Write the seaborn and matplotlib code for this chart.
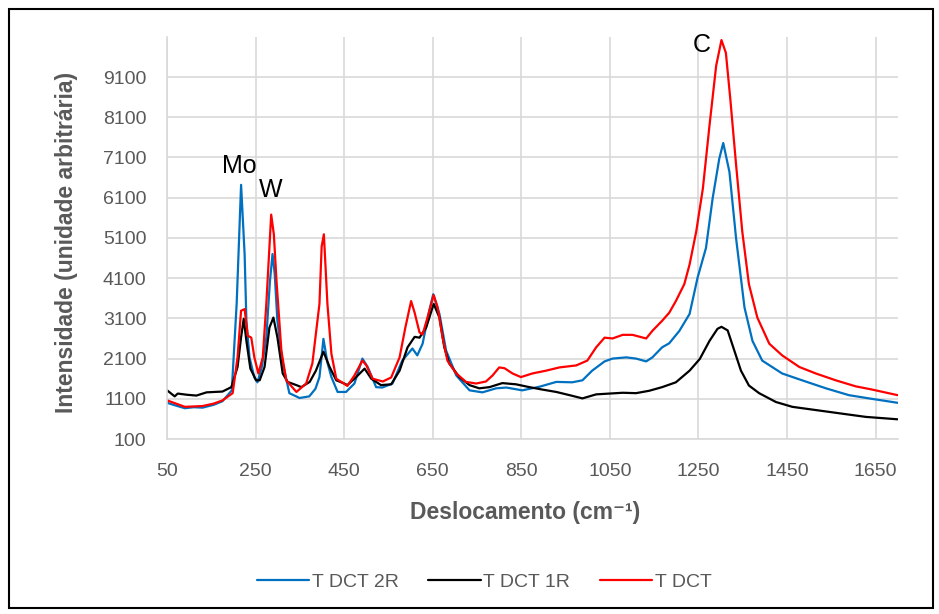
import pandas as pd
import matplotlib
matplotlib.use('Agg')
import matplotlib.pyplot as plt
import seaborn as sns
from matplotlib.patches import Rectangle

# Raman spectra (deslocamento cm-1, intensidade)
x_2r = [50, 70, 90, 110, 130, 155, 175, 196, 207, 217, 225, 229, 236, 247, 254, 264, 274, 282, 288, 293,
        299, 310, 326, 349, 371, 385, 394, 403, 412, 421, 435, 454, 473, 491, 503, 522, 536, 559, 581, 604,
        615, 627, 642, 651, 665, 680, 703, 733, 762, 793, 816, 852, 891, 929, 965, 988, 1010, 1038, 1056, 1087,
        1109, 1132, 1146, 1168, 1184, 1207, 1230, 1248, 1267, 1282, 1297, 1306, 1320, 1335, 1354, 1372, 1394, 1439, 1484, 1538,
        1590, 1635, 1700]
y_2r = [1000, 930, 866, 890, 880, 950, 1040, 1310, 3460, 6420, 4690, 3040, 2130, 1630, 1510, 1900, 2620, 4000, 4700, 4200,
        3040, 2050, 1240, 1120, 1160, 1350, 1640, 2590, 2000, 1640, 1270, 1270, 1480, 2100, 1890, 1390, 1380, 1480, 2050, 2350,
        2180, 2470, 3290, 3700, 3210, 2300, 1680, 1310, 1260, 1360, 1380, 1310, 1400, 1520, 1510, 1560, 1800, 2030, 2100, 2130,
        2100, 2030, 2130, 2380, 2480, 2790, 3210, 4110, 4850, 6080, 7070, 7460, 6740, 5090, 3370, 2540, 2050, 1730, 1560, 1360,
        1190, 1110, 1000]

x_1r = [50, 67, 74, 95, 116, 139, 175, 195, 209, 217, 223, 229, 238, 251, 259, 270, 281, 290, 299, 311,
        322, 342, 353, 372, 386, 403, 417, 432, 450, 457, 477, 496, 511, 533, 556, 575, 593, 609, 620, 635,
        652, 665, 676, 687, 710, 733, 755, 778, 807, 838, 868, 897, 929, 959, 988, 1019, 1049, 1079, 1109, 1139,
        1168, 1199, 1230, 1253, 1275, 1293, 1302, 1316, 1331, 1346, 1364, 1387, 1425, 1462, 1515, 1568, 1628, 1700]
y_1r = [1310, 1160, 1230, 1200, 1180, 1260, 1280, 1390, 1890, 2630, 3090, 2540, 1850, 1560, 1560, 1890, 2870, 3120, 2630, 1730,
        1520, 1440, 1390, 1520, 1800, 2270, 1890, 1560, 1480, 1440, 1640, 1850, 1600, 1440, 1460, 1800, 2380, 2640, 2620, 2870,
        3460, 3120, 2380, 1980, 1640, 1440, 1360, 1390, 1490, 1460, 1390, 1330, 1270, 1190, 1110, 1210, 1230, 1250, 1240, 1300,
        1390, 1510, 1800, 2090, 2540, 2840, 2890, 2800, 2300, 1800, 1430, 1240, 1020, 900, 820, 740, 650, 590]

x_t = [50, 70, 90, 110, 130, 155, 175, 198, 209, 217, 225, 232, 240, 247, 256, 266, 274, 285, 291, 297,
       308, 319, 342, 364, 378, 394, 399, 404, 412, 421, 432, 446, 457, 473, 491, 500, 514, 537, 556, 575,
       588, 601, 609, 620, 627, 638, 652, 661, 672, 683, 703, 725, 748, 770, 785, 800, 812, 830, 849, 875,
       906, 936, 974, 999, 1019, 1038, 1056, 1079, 1101, 1132, 1146, 1168, 1184, 1199, 1218, 1230, 1245, 1260, 1275, 1290,
       1302, 1312, 1322, 1335, 1349, 1364, 1383, 1410, 1439, 1478, 1515, 1560, 1605, 1642, 1700]
y_t = [1060, 980, 900, 910, 920, 980, 1060, 1240, 2130, 3290, 3330, 2670, 2620, 2130, 1730, 2130, 3460, 5680, 5190, 4030,
       2300, 1560, 1270, 1480, 1980, 3460, 4890, 5190, 3460, 2220, 1600, 1500, 1420, 1680, 2050, 1930, 1600, 1530, 1630, 2130,
       2870, 3530, 3240, 2750, 2700, 3120, 3680, 3370, 2630, 2050, 1730, 1520, 1480, 1530, 1680, 1880, 1860, 1730, 1640, 1730,
       1800, 1880, 1930, 2050, 2380, 2620, 2600, 2690, 2690, 2600, 2790, 3040, 3240, 3530, 3950, 4440, 5260, 6330, 7900, 9380,
       10020, 9700, 8550, 6920, 5260, 3950, 3120, 2470, 2180, 1890, 1730, 1560, 1410, 1330, 1190]

series = ['T DCT 2R', 'T DCT 1R', 'T DCT']
colors = ['#0070C0', '#000000', '#FF0000']
x_ticks = [50, 250, 450, 650, 850, 1050, 1250, 1450, 1650]
y_ticks = [100, 1100, 2100, 3100, 4100, 5100, 6100, 7100, 8100, 9100]

frames = []
for name, xs, ys in zip(series, [x_2r, x_1r, x_t], [y_2r, y_1r, y_t]):
    frames.append(pd.DataFrame({'x': xs, 'y': ys, 'serie': name}))
df = pd.concat(frames, ignore_index=True)

sns.set_theme(style='white')
plt.rcParams['font.family'] = ['Liberation Sans', 'DejaVu Sans']

fig, ax = plt.subplots(figsize=(9.39, 6.14), dpi=100)
fig.subplots_adjust(left=0.178, right=0.956, top=0.940, bottom=0.285)

sns.lineplot(data=df, x='x', y='y', hue='serie', hue_order=series,
             palette=dict(zip(series, colors)), sort=False, estimator=None,
             linewidth=1.6, ax=ax)

ax.set_xlim(50, 1700)
ax.set_ylim(100, 10100)
ax.set_xticks(x_ticks)
ax.set_yticks(y_ticks)
ax.grid(True, color='#D9D9D9', linewidth=1.2)
ax.set_axisbelow(True)
for side in ['top', 'right']:
    ax.spines[side].set_visible(False)
for side in ['left', 'bottom']:
    ax.spines[side].set_color('#D9D9D9')
    ax.spines[side].set_linewidth(1.2)
ax.tick_params(axis='both', length=0, labelsize=14, colors='#595959')
ax.tick_params(axis='x', pad=17)
ax.tick_params(axis='y', pad=15)

ax.set_xlabel('Deslocamento (cm⁻¹)', fontsize=16.5, fontweight='bold', color='#595959')
ax.set_ylabel('Intensidade (unidade arbitrária)', fontsize=16.5, fontweight='bold', color='#595959')
ax.xaxis.set_label_coords(0.49, -0.182)
ax.yaxis.set_label_coords(-0.138, 0.49)
ax.xaxis.label.set_va('center')
ax.yaxis.label.set_va('center')

ax.text(213, 6600, 'Mo', fontsize=18, color='black', ha='center', va='bottom')
ax.text(285, 6000, 'W', fontsize=18, color='black', ha='center', va='bottom')
ax.text(1258, 9600, 'C', fontsize=18, color='black', ha='center', va='bottom')

ax.legend(loc='center', bbox_to_anchor=(0.434, -0.356), ncol=3, frameon=False,
          fontsize=14, handlelength=2.7, handletextpad=0.15, columnspacing=1.5,
          labelcolor='#595959')

fig.patches.append(Rectangle((0.0096, 0.01), 0.984, 0.976, transform=fig.transFigure,
                             fill=False, edgecolor='black', linewidth=1.5))

fig.savefig('out.png', dpi=100)
